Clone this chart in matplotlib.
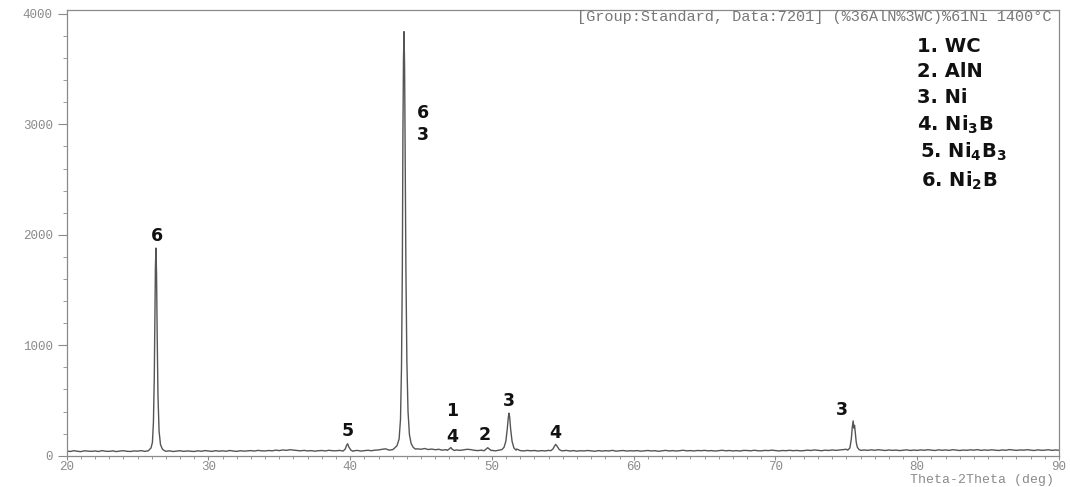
import numpy as np
import matplotlib
matplotlib.use('Agg')
from matplotlib import pyplot as plt
from matplotlib.ticker import MultipleLocator

# background counts every 0.25 deg from 20 to 90 deg
bg_start, bg_step = 20.0, 0.25
bg_counts = [
    42, 38, 45, 40, 37, 44, 41, 39, 43, 38, 46, 40, 39, 44, 37, 42,
    45, 40, 38, 43, 41, 46, 39, 44, 42, 45, 48, 44, 40, 44, 38, 42,
    45, 39, 43, 41, 38, 44, 40, 46, 42, 39, 45, 41, 44, 40, 47, 42,
    39, 45, 41, 43, 46, 42, 48, 44, 43, 47, 44, 50, 46, 52, 48, 54,
    50, 47, 44, 48, 43, 46, 41, 45, 47, 43, 49, 45, 44, 48, 46, 50,
    47, 44, 48, 42, 46, 49, 45, 50, 52, 58, 62, 50, 55, 62, 70, 90,
    80, 70, 75, 62, 58, 65, 56, 60, 54, 58, 50, 55, 49, 60, 52, 48,
    53, 58, 55, 49, 46, 50, 55, 47, 48, 44, 50, 52, 58, 70, 80, 60,
    46, 43, 48, 44, 47, 42, 46, 43, 48, 50, 60, 50, 44, 48, 42, 46,
    41, 45, 43, 47, 44, 40, 46, 42, 45, 43, 48, 41, 44, 47, 42, 45,
    43, 46, 41, 44, 47, 43, 45, 40, 44, 48, 43, 46, 42, 45, 49, 44,
    46, 43, 47, 45, 48, 44, 46, 42, 45, 49, 44, 47, 43, 46, 42, 48,
    47, 44, 49, 45, 44, 48, 46, 50, 46, 43, 47, 45, 49, 45, 48, 44,
    46, 50, 47, 52, 48, 45, 50, 47, 52, 48, 51, 55, 58, 60, 62, 56,
    55, 52, 48, 53, 49, 54, 50, 47, 52, 48, 51, 46, 50, 53, 47, 51,
    48, 52, 49, 54, 50, 47, 53, 49, 52, 48, 54, 50, 47, 51, 49, 53,
    50, 55, 48, 52, 49, 53, 50, 47, 52, 49, 55, 51, 48, 52, 50, 54,
    51, 47, 53, 49, 50, 54, 48, 52, 49,
]

# reflections: (2theta, counts) profiles
peak_26 = ([25.8, 25.95, 26.05, 26.12, 26.18, 26.22, 26.26, 26.30, 26.34,
            26.38, 26.44, 26.52, 26.62, 26.75, 26.9],
           [50, 70, 120, 300, 700, 1250, 1700, 1880, 1650, 1150, 550, 220,
            100, 60, 45])
peak_40 = ([39.5, 39.65, 39.75, 39.82, 39.9, 40.05, 40.2],
           [42, 60, 95, 108, 80, 50, 40])
peak_44 = ([43.1, 43.3, 43.45, 43.55, 43.62, 43.68, 43.72, 43.76, 43.80,
            43.84, 43.88, 43.93, 44.0, 44.08, 44.18, 44.3, 44.45, 44.6],
           [65, 90, 150, 330, 800, 1700, 2900, 3600, 3840, 3500, 2700, 1700,
            850, 400, 190, 110, 75, 60])
peak_47 = ([46.85, 47.0, 47.1, 47.2, 47.35], [48, 62, 74, 58, 47])
peak_50 = ([49.45, 49.6, 49.7, 49.8, 49.95], [45, 62, 72, 62, 46])
peak_51 = ([50.7, 50.85, 50.98, 51.08, 51.15, 51.2, 51.25, 51.32, 51.42,
            51.55, 51.7],
           [55, 75, 130, 240, 340, 385, 350, 240, 130, 70, 50])
peak_54 = ([54.15, 54.3, 54.42, 54.5, 54.6, 54.75, 54.9],
           [45, 60, 88, 102, 85, 55, 45])
peak_76 = ([75.1, 75.25, 75.35, 75.42, 75.48, 75.53, 75.58, 75.64, 75.7,
            75.78, 75.9, 76.05],
           [50, 70, 150, 260, 315, 250, 275, 200, 120, 75, 55, 48])
peaks = [peak_26, peak_40, peak_44, peak_47, peak_50, peak_51, peak_54,
         peak_76]

# peak markers: text, 2theta, counts
marks = ['6', '5', '6', '3', '1', '4', '2', '3', '4', '3']
mark_2theta = [26.35, 39.8, 45.1, 45.1, 47.2, 47.2, 49.5, 51.2, 54.5, 74.7]
mark_counts = [1985, 225, 3100, 2905, 405, 170, 190, 495, 205, 410]

phases = ['1. WC', '2. AlN', '3. Ni', '4. Ni$_\\mathbf{3}$B',
          '5. Ni$_\\mathbf{4}$B$_\\mathbf{3}$', '6. Ni$_\\mathbf{2}$B']

header = '[Group:Standard, Data:7201] (%36AlN%3WC)%61Ni 1400°C'

# merge background with peak profiles
bg_x = bg_start + bg_step * np.arange(len(bg_counts))
bg_y = np.array(bg_counts, dtype=float)
keep = np.ones(len(bg_x), dtype=bool)
for px, py in peaks:
    keep &= ~((bg_x >= px[0]) & (bg_x <= px[-1]))
two_theta = np.concatenate([bg_x[keep]] + [np.array(p[0]) for p in peaks])
counts = np.concatenate([bg_y[keep]] + [np.array(p[1], dtype=float)
                                         for p in peaks])
order = np.argsort(two_theta)
two_theta = two_theta[order]
counts = counts[order]

grey = '#8a8a8a'
mono = 'Liberation Mono'

fig = plt.figure(figsize=(10.7, 4.87), dpi=100)
ax = fig.add_axes([0.0623, 0.0643, 0.9274, 0.9152])
ax.plot(two_theta, counts, color='#555555', lw=1.0)

ax.set_xlim(20, 90)
ax.set_ylim(0, 4036)
ax.xaxis.set_major_locator(MultipleLocator(10))
ax.xaxis.set_minor_locator(MultipleLocator(1))
ax.yaxis.set_major_locator(MultipleLocator(1000))
ax.yaxis.set_minor_locator(MultipleLocator(200))
ax.tick_params(axis='y', which='major', length=6.5, width=0.8, color=grey,
               pad=3.5)
ax.tick_params(axis='y', which='minor', length=3, width=0.6, color=grey)
ax.tick_params(axis='x', which='major', length=3, width=0.8, color=grey,
               pad=0.5)
ax.tick_params(axis='x', which='minor', length=2.5, width=0.6, color=grey)
for lab in ax.get_xticklabels() + ax.get_yticklabels():
    lab.set_fontfamily(mono)
    lab.set_fontsize(9)
    lab.set_color(grey)
for sp in ax.spines.values():
    sp.set_color(grey)
    sp.set_linewidth(0.9)

fig.text(0.985, 0.002, 'Theta-2Theta (deg)', family=mono, fontsize=9.5,
         color=grey, ha='right', va='bottom')
ax.text(0.992, 0.984, header, transform=ax.transAxes, family=mono,
        fontsize=11, color='#777777', ha='right', va='center')

for t, x, y in zip(marks, mark_2theta, mark_counts):
    ax.text(x, y, t, fontsize=12.5, fontweight='bold', family='DejaVu Sans',
            color='#111111', ha='center', va='center')

legend_y = [0.918, 0.862, 0.803, 0.743, 0.682, 0.617]
legend_x = [0.857, 0.857, 0.857, 0.857, 0.860, 0.861]
for t, x, y in zip(phases, legend_x, legend_y):
    ax.text(x, y, t, transform=ax.transAxes, fontsize=14, fontweight='bold',
            family='DejaVu Sans', color='#111111', ha='left', va='center')

plt.savefig('out.png', dpi=100)
